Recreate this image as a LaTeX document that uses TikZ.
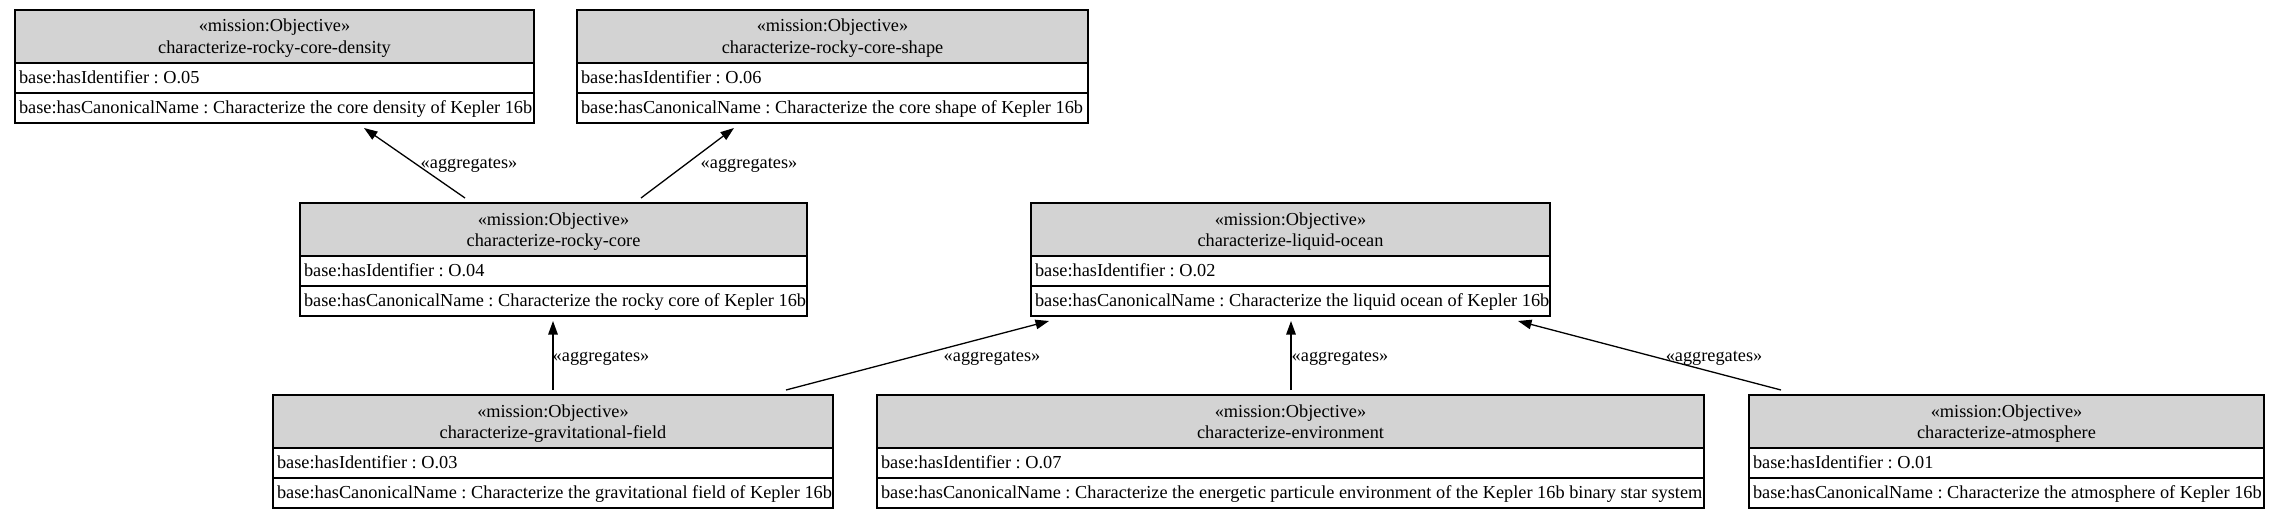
\documentclass[tikz,border=0pt]{standalone}
\usepackage{fontspec}
\setmainfont{Liberation Serif}
\usetikzlibrary{arrows.meta,calc}
\definecolor{hdrgray}{HTML}{D3D3D3}
\frenchspacing
\tikzset{
  objbox/.style={draw=black, line width=1.3pt, minimum height=113pt, inner sep=0pt, outer sep=0pt,
    path picture={
      \fill[hdrgray] (path picture bounding box.north west) rectangle ([yshift=-53pt]path picture bounding box.north east);
      \draw[line width=1.3pt] ([yshift=-53pt]path picture bounding box.north west) -- ([yshift=-53pt]path picture bounding box.north east);
      \draw[line width=1.3pt] ([yshift=-83pt]path picture bounding box.north west) -- ([yshift=-83pt]path picture bounding box.north east);
    }},
  txt/.style={inner sep=0pt, outer sep=0pt, font=\fontsize{18.3}{22}\selectfont\frenchspacing},
  hdtext/.style={txt, anchor=base},
  rowtext/.style={txt, anchor=base west},
  lbl/.style={txt, anchor=base},
  edge/.style={line width=1.3pt, -{Triangle[length=13.5pt,width=9.5pt]}}
}
\newcommand\ObjBox[7]{%
  \node[objbox, minimum width=#4pt, anchor=north west] (#1) at (#2,#3) {};
  \node[hdtext] (#1-st) at ($(#1.north)+(0,22)$) {«mission:Objective»};
  \node[hdtext] (#1-nm) at ($(#1.north)+(0,43)$) {#5};
  \node[rowtext] (#1-id) at ($(#1.north west)+(4,73)$) {base:hasIdentifier : #6};
  \node[rowtext] (#1-cn) at ($(#1.north west)+(4,103)$) {base:hasCanonicalName : #7};
}
\begin{document}
\begin{tikzpicture}[x=1pt,y=-1pt]
\useasboundingbox[fill=white] (0,0) rectangle (2280,519);
\ObjBox{b1}{15}{10}{519}{characterize-rocky-core-density}{O.05}{Characterize the core density of Kepler 16b}
\ObjBox{b2}{577}{10}{511}{characterize-rocky-core-shape}{O.06}{Characterize the core shape of Kepler 16b}
\ObjBox{b3}{300}{203}{507}{characterize-rocky-core}{O.04}{Characterize the rocky core of Kepler 16b}
\ObjBox{b4}{1031}{203}{519}{characterize-liquid-ocean}{O.02}{Characterize the liquid ocean of Kepler 16b}
\ObjBox{b5}{273}{395}{560}{characterize-gravitational-field}{O.03}{Characterize the gravitational field of Kepler 16b}
\ObjBox{b6}{877}{395}{827}{characterize-environment}{O.07}{Characterize the energetic particule environment of the Kepler 16b binary star system}
\ObjBox{b7}{1749}{395}{515}{characterize-atmosphere}{O.01}{Characterize the atmosphere of Kepler 16b}
% edges
\draw[edge] ($(b3.north west)+(165,-5)$) -- ($(b1.south west)+(349,5)$);
\draw[edge] ($(b3.north west)+(341,-5)$) -- ($(b2.south west)+(157,5)$);
\draw[edge] ($(b5.north west)+(280,-5)$) -- ($(b3.south west)+(253,5)$);
\draw[edge] ($(b5.north west)+(513,-5)$) -- ($(b4.south west)+(18,5)$);
\draw[edge] ($(b6.north west)+(414,-5)$) -- ($(b4.south west)+(260,5)$);
\draw[edge] ($(b7.north west)+(32,-5)$) -- ($(b4.south west)+(487,5)$);
% labels
\node[lbl] (l1) at (469,168) {«aggregates»};
\node[lbl] (l2) at (749,168) {«aggregates»};
\node[lbl] (l3) at (601,361) {«aggregates»};
\node[lbl] (l4) at (992,361) {«aggregates»};
\node[lbl] (l5) at (1340,361) {«aggregates»};
\node[lbl] (l6) at (1714,361) {«aggregates»};
\end{tikzpicture}
\end{document}
